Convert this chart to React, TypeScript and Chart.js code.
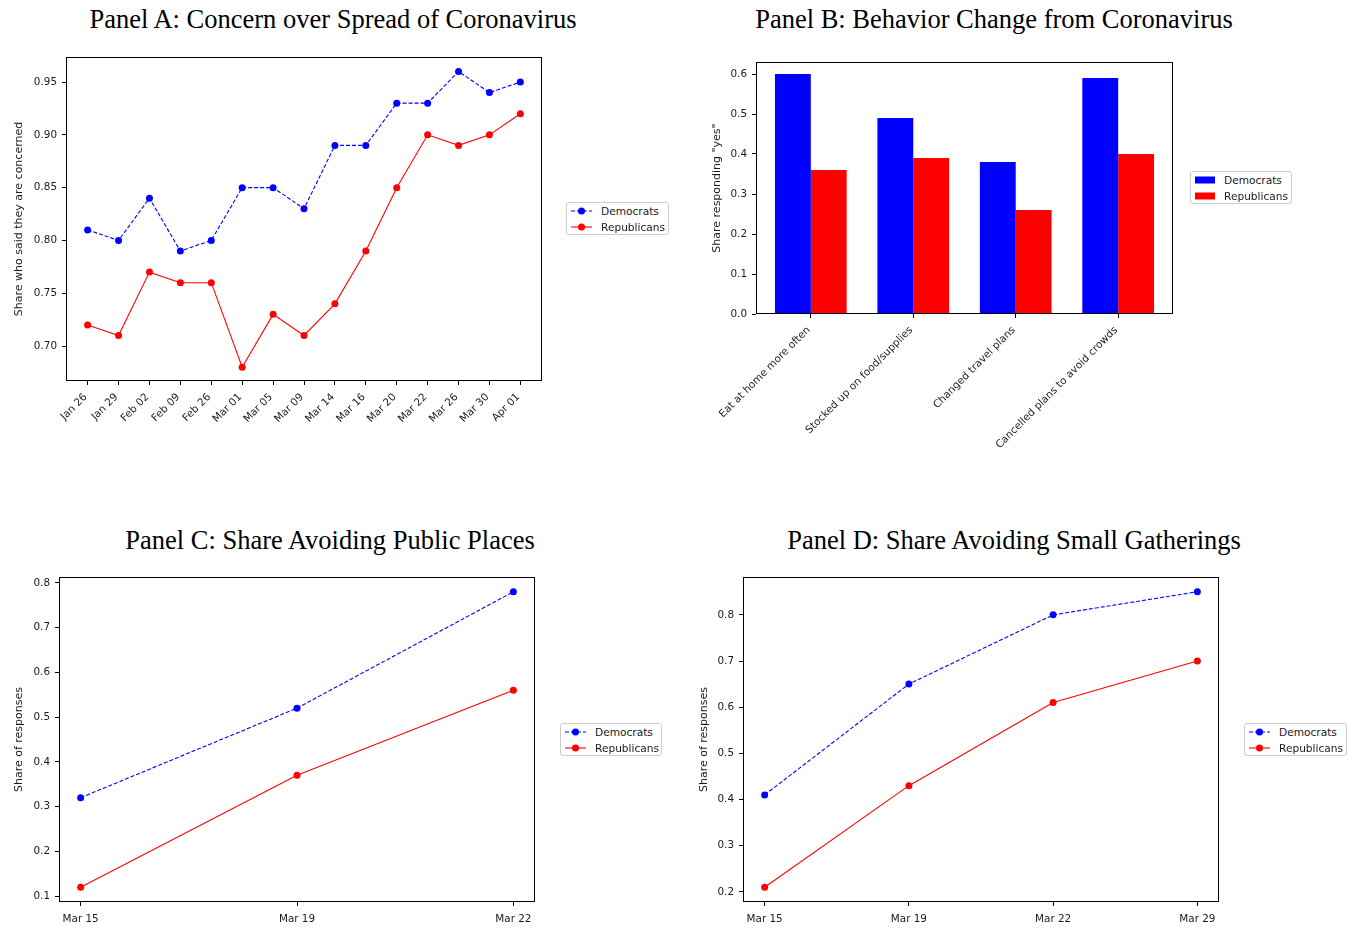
import React, { useEffect, useRef } from 'react';
import { Chart, registerables } from 'chart.js';

Chart.register(...registerables);

// ---------- DATA ----------
const panelADates = ['Jan 26', 'Jan 29', 'Feb 02', 'Feb 09', 'Feb 26', 'Mar 01', 'Mar 05', 'Mar 09', 'Mar 14', 'Mar 16', 'Mar 20', 'Mar 22', 'Mar 26', 'Mar 30', 'Apr 01'];
const panelADem = [0.81, 0.80, 0.84, 0.79, 0.80, 0.85, 0.85, 0.83, 0.89, 0.89, 0.93, 0.93, 0.96, 0.94, 0.95];
const panelARep = [0.72, 0.71, 0.77, 0.76, 0.76, 0.68, 0.73, 0.71, 0.74, 0.79, 0.85, 0.90, 0.89, 0.90, 0.92];
const panelAYTicks = [0.70, 0.75, 0.80, 0.85, 0.90, 0.95];

const panelBCategories = ['Eat at home more often', 'Stocked up on food/supplies', 'Changed travel plans', 'Cancelled plans to avoid crowds'];
const panelBDem = [0.60, 0.49, 0.38, 0.59];
const panelBRep = [0.36, 0.39, 0.26, 0.40];
const panelBYTicks = [0.0, 0.1, 0.2, 0.3, 0.4, 0.5, 0.6];

const panelCDates = ['Mar 15', 'Mar 19', 'Mar 22'];
const panelCDem = [0.32, 0.52, 0.78];
const panelCRep = [0.12, 0.37, 0.56];
const panelCYTicks = [0.1, 0.2, 0.3, 0.4, 0.5, 0.6, 0.7, 0.8];

const panelDDates = ['Mar 15', 'Mar 19', 'Mar 22', 'Mar 29'];
const panelDDem = [0.41, 0.65, 0.80, 0.85];
const panelDRep = [0.21, 0.43, 0.61, 0.70];
const panelDYTicks = [0.2, 0.3, 0.4, 0.5, 0.6, 0.7, 0.8];

const seriesNames = ['Democrats', 'Republicans'];
const BLUE = '#0000ff';
const RED = '#ff0000';
const FONT = "'DejaVu Sans', sans-serif";
const TEXT = '#1a1a1a';
const TICK_SIZE = 10.4;

Chart.defaults.font.family = FONT;
Chart.defaults.font.size = TICK_SIZE;

const framePlugin = {
  id: 'frame',
  afterDatasetsDraw(chart: any) {
    const { ctx, chartArea } = chart;
    ctx.save();
    ctx.strokeStyle = '#000';
    ctx.lineWidth = 1;
    ctx.strokeRect(chartArea.left + 0.5, chartArea.top + 0.5, chartArea.right - chartArea.left - 1, chartArea.bottom - chartArea.top - 1);
    ctx.restore();
  },
};

type PanelProps = {
  kind: 'line' | 'bar';
  labels: string[];
  dem: number[];
  rep: number[];
  yTicks: number[];
  yDecimals: number;
  xMin: number;
  xMax: number;
  yMin: number;
  yMax: number;
  yTitle: string;
  plot: { left: number; top: number; right: number; bottom: number };
  yTitleX: number;
  xAxisHeight: number;
  rotate: number;
};

function Panel(p: PanelProps) {
  const ref = useRef<HTMLCanvasElement | null>(null);
  const titleSize = 11;
  const offset = 4 + (titleSize * 1.2) / 2;
  const canvasLeft = Math.round(p.yTitleX - offset);
  const W = p.plot.left - canvasLeft;
  const padTop = 12;
  const padRight = 30;
  const plotW = p.plot.right - p.plot.left;
  const plotH = p.plot.bottom - p.plot.top;
  const cw = W + plotW + padRight;
  const chh = padTop + plotH + p.xAxisHeight;
  const rotated = p.rotate !== 0;

  useEffect(() => {
    if (!ref.current) return;
    const isLine = p.kind === 'line';
    const datasets: any[] = isLine
      ? [
          {
            label: seriesNames[0],
            data: p.dem.map((y, i) => ({ x: i, y })),
            borderColor: BLUE,
            backgroundColor: BLUE,
            borderWidth: 1.1,
            borderDash: [4, 2],
            pointRadius: 3.5,
            pointBorderWidth: 0,
            pointBackgroundColor: BLUE,
            tension: 0,
          },
          {
            label: seriesNames[1],
            data: p.rep.map((y, i) => ({ x: i, y })),
            borderColor: RED,
            backgroundColor: RED,
            borderWidth: 1.1,
            pointRadius: 3.5,
            pointBorderWidth: 0,
            pointBackgroundColor: RED,
            tension: 0,
          },
        ]
      : [
          {
            label: seriesNames[0],
            data: p.dem.map((y, i) => ({ x: i, y })),
            backgroundColor: BLUE,
            borderWidth: 0,
            categoryPercentage: 0.7,
            barPercentage: 1.0,
          },
          {
            label: seriesNames[1],
            data: p.rep.map((y, i) => ({ x: i, y })),
            backgroundColor: RED,
            borderWidth: 0,
            categoryPercentage: 0.7,
            barPercentage: 1.0,
          },
        ];

    const chart = new Chart(ref.current, {
      type: p.kind,
      data: { datasets },
      plugins: [framePlugin],
      options: {
        animation: false,
        responsive: false,
        events: [],
        layout: { padding: { top: padTop, right: padRight, left: 0, bottom: 0 } },
        plugins: { legend: { display: false }, tooltip: { enabled: false }, title: { display: false } },
        scales: {
          x: {
            type: 'linear',
            min: p.xMin,
            max: p.xMax,
            offset: false,
            afterBuildTicks: (axis: any) => {
              axis.ticks = p.labels.map((_, i) => ({ value: i }));
            },
            afterFit: (axis: any) => {
              axis.height = p.xAxisHeight;
            },
            grid: { display: true, drawOnChartArea: false, drawTicks: true, tickLength: 4, color: '#000', offset: false },
            border: { display: false },
            ticks: {
              autoSkip: false,
              minRotation: p.rotate,
              maxRotation: p.rotate,
              padding: rotated ? 6 : 7,
              labelOffset: rotated ? -2 : 0,
              color: TEXT,
              font: { size: TICK_SIZE, family: FONT },
              callback: (v: any) => {
                const i = Math.round(Number(v));
                return p.labels[i] ?? '';
              },
            },
          },
          y: {
            type: 'linear',
            min: p.yMin,
            max: p.yMax,
            afterBuildTicks: (axis: any) => {
              axis.ticks = p.yTicks.map((v) => ({ value: v }));
            },
            afterFit: (axis: any) => {
              axis.width = W;
            },
            grid: { display: true, drawOnChartArea: false, drawTicks: true, tickLength: 4, color: '#000' },
            border: { display: false },
            title: {
              display: true,
              text: p.yTitle,
              color: TEXT,
              font: { size: titleSize, family: FONT },
              padding: { top: 4, bottom: 4 },
            },
            ticks: {
              padding: 5,
              color: TEXT,
              font: { size: TICK_SIZE, family: FONT },
              callback: (v: any) => Number(v).toFixed(p.yDecimals),
            },
          },
        },
      } as any,
    });
    return () => chart.destroy();
  }, []);

  return (
    <canvas
      ref={ref}
      width={cw}
      height={chh}
      style={{ position: 'absolute', left: canvasLeft, top: p.plot.top - padTop, width: cw, height: chh }}
    />
  );
}

function Legend({ left, top, width, height, kind }: { left: number; top: number; width: number; height: number; kind: 'line' | 'bar' }) {
  const colors = [BLUE, RED];
  return (
    <div
      style={{
        position: 'absolute',
        left,
        top,
        width,
        height,
        boxSizing: 'border-box',
        border: '1px solid #cccccc',
        borderRadius: 3,
        background: '#fff',
      }}
    >
      {seriesNames.map((name, i) => {
        const cy = 7.5 + i * 16;
        return (
          <React.Fragment key={name}>
            <svg style={{ position: 'absolute', left: 4, top: cy - 6, overflow: 'visible' }} width={22} height={12}>
              {kind === 'line' ? (
                <>
                  <line x1={0} y1={6} x2={21} y2={6} stroke={colors[i]} strokeWidth={1.1} strokeDasharray={i === 0 ? '4 2' : undefined} />
                  <circle cx={10.5} cy={6} r={3.5} fill={colors[i]} />
                </>
              ) : (
                <rect x={0} y={2.5} width={20} height={7} fill={colors[i]} />
              )}
            </svg>
            <div
              style={{
                position: 'absolute',
                left: kind === 'line' ? 34 : 33,
                top: cy - 7,
                height: 14,
                lineHeight: '14px',
                fontFamily: FONT,
                fontSize: 10.6,
                color: TEXT,
                whiteSpace: 'nowrap',
              }}
            >
              {name}
            </div>
          </React.Fragment>
        );
      })}
    </div>
  );
}

function Title({ cx, top, text }: { cx: number; top: number; text: string }) {
  return (
    <div
      style={{
        position: 'absolute',
        left: cx - 400,
        top,
        width: 800,
        textAlign: 'center',
        fontFamily: "'Liberation Serif', 'Times New Roman', serif",
        fontSize: 26.5,
        lineHeight: '30px',
        color: '#000',
        whiteSpace: 'nowrap',
      }}
    >
      {text}
    </div>
  );
}

export default function App() {
  return (
    <div style={{ position: 'absolute', left: 0, top: 0, width: 1361, height: 928, background: '#fff', overflow: 'hidden' }}>
      <Title cx={333} top={4} text="Panel A: Concern over Spread of Coronavirus" />
      <Title cx={994} top={4} text="Panel B: Behavior Change from Coronavirus" />
      <Title cx={330} top={525} text="Panel C: Share Avoiding Public Places" />
      <Title cx={1014} top={525} text="Panel D: Share Avoiding Small Gatherings" />

      <Panel
        kind="line"
        labels={panelADates}
        dem={panelADem}
        rep={panelARep}
        yTicks={panelAYTicks}
        yDecimals={2}
        xMin={-0.7}
        xMax={14.7}
        yMin={0.6669}
        yMax={0.9737}
        yTitle="Share who said they are concerned"
        plot={{ left: 66, top: 57, right: 542, bottom: 381 }}
        yTitleX={20}
        xAxisHeight={70}
        rotate={45}
      />
      <Panel
        kind="bar"
        labels={panelBCategories}
        dem={panelBDem}
        rep={panelBRep}
        yTicks={panelBYTicks}
        yDecimals={1}
        xMin={-0.535}
        xMax={3.535}
        yMin={0}
        yMax={0.63}
        yTitle={'Share responding "yes"'}
        plot={{ left: 756, top: 62, right: 1173, bottom: 314 }}
        yTitleX={718}
        xAxisHeight={150}
        rotate={45}
      />
      <Panel
        kind="line"
        labels={panelCDates}
        dem={panelCDem}
        rep={panelCRep}
        yTicks={panelCYTicks}
        yDecimals={1}
        xMin={-0.1}
        xMax={2.1}
        yMin={0.087}
        yMax={0.813}
        yTitle="Share of responses"
        plot={{ left: 59, top: 577, right: 535, bottom: 902 }}
        yTitleX={20}
        xAxisHeight={24}
        rotate={0}
      />
      <Panel
        kind="line"
        labels={panelDDates}
        dem={panelDDem}
        rep={panelDRep}
        yTicks={panelDYTicks}
        yDecimals={1}
        xMin={-0.15}
        xMax={3.15}
        yMin={0.178}
        yMax={0.882}
        yTitle="Share of responses"
        plot={{ left: 743, top: 577, right: 1219, bottom: 902 }}
        yTitleX={705}
        xAxisHeight={24}
        rotate={0}
      />

      <Legend left={566} top={202} width={103} height={33} kind="line" />
      <Legend left={1190} top={171} width={102} height={33} kind="bar" />
      <Legend left={560} top={723} width={102} height={33} kind="line" />
      <Legend left={1244} top={723} width={103} height={33} kind="line" />
    </div>
  );
}
